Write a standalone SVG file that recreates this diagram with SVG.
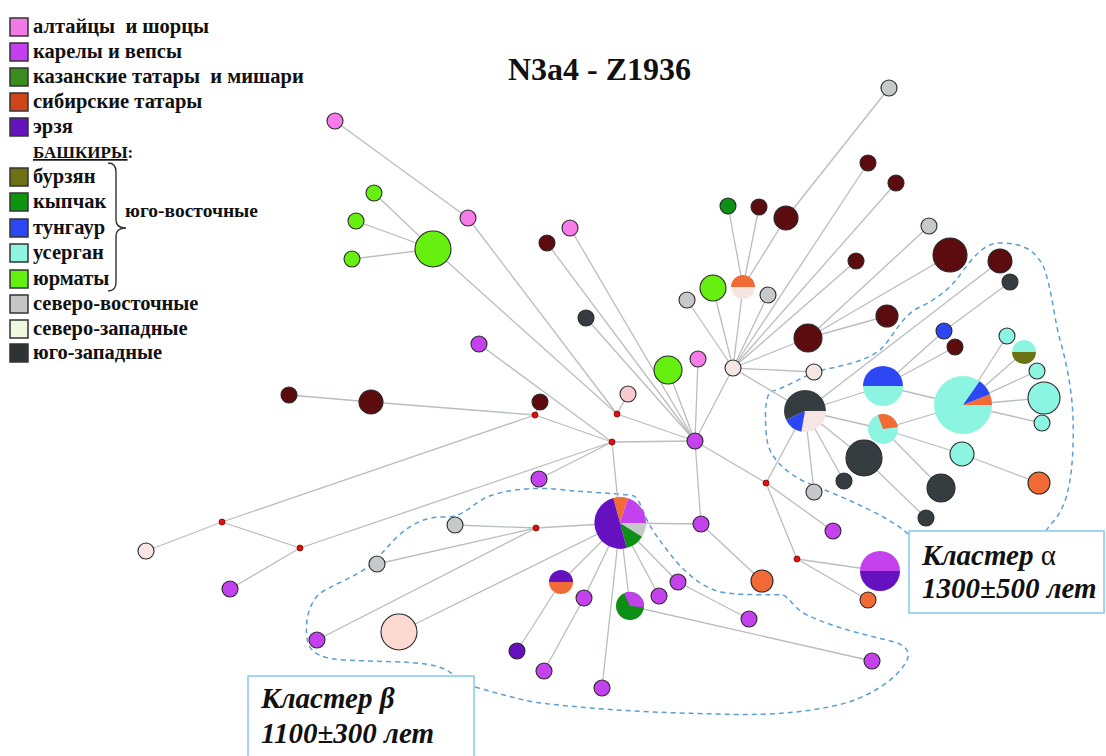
<svg xmlns="http://www.w3.org/2000/svg" width="1106" height="756" viewBox="0 0 1106 756">
<style>
.e{stroke:#b9bdbd;stroke-width:1.3;fill:none}
.n{stroke:#2a2a2a;stroke-width:1.1}
.mr{fill:#5c0b0e}.dg{fill:#363d40}.gy{fill:#c6c9c9}.pl{fill:#f6e6e3}.pp{fill:#f9cbd0}
.mg{fill:#c441ee}.pk{fill:#f77be9}.ym{fill:#66ef0f}.kp{fill:#0d8e14}.or{fill:#f26a36}
.us{fill:#8cf5e1}.bl{fill:#2c47f3}.ez{fill:#6511c0}.bz{fill:#6b7213}
.rd{fill:#e01010;stroke:#7a0000;stroke-width:0.8}
.lg{font-family:"Liberation Serif","Times New Roman",serif;font-weight:bold;font-size:20.5px;fill:#111;white-space:pre}
.sq{stroke:#333;stroke-width:1.5}
.dash{fill:none;stroke:#5a9fd4;stroke-width:1.5;stroke-dasharray:5,4}
.box{fill:#fff;stroke:#8ccbf0;stroke-width:1.6}
.cl{font-family:"Liberation Serif","Times New Roman",serif;font-weight:bold;font-style:italic;font-size:29px;fill:#111}
</style>

<g id="legend">
<rect class="sq" x="10" y="18" width="18" height="18" fill="#f27ae6"/>
<text class="lg" x="33" y="33" xml:space="preserve">алтайцы  и шорцы</text>
<rect class="sq" x="10" y="43" width="18" height="18" fill="#c43ff0"/>
<text class="lg" x="33" y="58">карелы и вепсы</text>
<rect class="sq" x="10" y="68" width="18" height="18" fill="#3a8c1c"/>
<text class="lg" x="33" y="83" xml:space="preserve">казанские татары  и мишари</text>
<rect class="sq" x="10" y="93" width="18" height="18" fill="#d0441a"/>
<text class="lg" x="33" y="108">сибирские татары</text>
<rect class="sq" x="10" y="118" width="18" height="18" fill="#6414be"/>
<text class="lg" x="33" y="133">эрзя</text>
<text class="lg" x="33" y="158" style="font-size:17px"><tspan text-decoration="underline">БАШКИРЫ</tspan>:</text>
<rect class="sq" x="10" y="168" width="18" height="18" fill="#6e7016"/>
<text class="lg" x="33" y="183">бурзян</text>
<rect class="sq" x="10" y="193" width="18" height="18" fill="#0c9610"/>
<text class="lg" x="33" y="208">кыпчак</text>
<rect class="sq" x="10" y="219" width="18" height="18" fill="#2c48f2"/>
<text class="lg" x="33" y="234">тунгаур</text>
<rect class="sq" x="10" y="244" width="18" height="18" fill="#8cf4e0"/>
<text class="lg" x="33" y="259">усерган</text>
<rect class="sq" x="10" y="270" width="18" height="18" fill="#66f010"/>
<text class="lg" x="33" y="285">юрматы</text>
<rect class="sq" x="10" y="295" width="18" height="18" fill="#c4c6c6"/>
<text class="lg" x="33" y="310">северо-восточные</text>
<rect class="sq" x="10" y="320" width="18" height="18" fill="#ecf8e0"/>
<text class="lg" x="33" y="335">северо-западные</text>
<rect class="sq" x="10" y="344" width="18" height="18" fill="#2e3436"/>
<text class="lg" x="33" y="359">юго-западные</text>
<path d="M108,163 Q116,163 116,172 L116,220 Q116,228 126,228 Q116,228 116,236 L116,282 Q116,291 108,291" fill="none" stroke="#333" stroke-width="1.4"/>
<text class="lg" x="125" y="217" style="font-size:19.5px">юго-восточные</text>
</g>

<g id="title"><text x="508" y="80" style="font-family:'Liberation Serif','Times New Roman',serif;font-weight:bold;font-size:32px;fill:#111">N3a4 - Z1936</text></g>

<g id="clusters">
<path class="dash" d="M1046,531 C1050,524 1058,518 1062,508 C1072,488 1074,450 1073,417 C1072,390 1066,360 1060,340 C1054,318 1052,290 1044,268 C1036,250 1022,243 1000,243 C985,243 975,255 962,272 C950,290 935,300 918,308 C900,318 895,335 880,350 C865,362 840,366 818,371 C800,378 785,388 770,392 C764,400 765,425 767,440 C770,458 785,472 805,482 C830,492 860,504 885,518 C895,524 902,528 909,535"/>
<path class="dash" d="M475,687 C500,694 520,700 540,703 C600,710 660,713 720,714 C770,716 820,712 855,700 C880,690 900,675 907,660 C912,648 900,643 887,640 C860,634 830,626 805,614 C792,606 790,598 783,595 C770,594 745,596 720,592 C700,586 690,575 680,566 C665,548 655,535 648,522 C642,510 640,500 634,496 C620,493 590,493 555,489 C530,487 505,490 487,497 C470,505 465,517 445,517 C425,516 410,525 397,537 C388,546 383,553 370,565 C355,578 330,585 318,595 C305,610 305,630 308,643 C312,655 325,659 345,660 C380,662 405,661 425,664 C440,666 448,670 455,676"/>
</g>

<g id="connectors">
<line class="e" x1="335" y1="121" x2="468" y2="218"/>
<line class="e" x1="468" y1="218" x2="617" y2="414"/>
<line class="e" x1="433" y1="249" x2="374" y2="193"/>
<line class="e" x1="433" y1="249" x2="356" y2="221"/>
<line class="e" x1="433" y1="249" x2="352" y2="259"/>
<line class="e" x1="433" y1="249" x2="617" y2="414"/>
<line class="e" x1="547" y1="243" x2="695" y2="441"/>
<line class="e" x1="570" y1="228" x2="695" y2="441"/>
<line class="e" x1="586" y1="318" x2="695" y2="441"/>
<line class="e" x1="668" y1="370" x2="695" y2="441"/>
<line class="e" x1="698" y1="359" x2="695" y2="441"/>
<line class="e" x1="733" y1="368" x2="695" y2="441"/>
<line class="e" x1="628" y1="394" x2="617" y2="414"/>
<line class="e" x1="617" y1="414" x2="695" y2="441"/>
<line class="e" x1="612" y1="442" x2="695" y2="441"/>
<line class="e" x1="612" y1="442" x2="535" y2="415"/>
<line class="e" x1="612" y1="442" x2="479" y2="344"/>
<line class="e" x1="612" y1="442" x2="539" y2="479"/>
<line class="e" x1="612" y1="442" x2="300" y2="548"/>
<line class="e" x1="612" y1="442" x2="620" y2="523"/>
<line class="e" x1="535" y1="415" x2="540" y2="402"/>
<line class="e" x1="535" y1="415" x2="371" y2="402"/>
<line class="e" x1="371" y1="402" x2="289" y2="395"/>
<line class="e" x1="535" y1="415" x2="222" y2="522"/>
<line class="e" x1="222" y1="522" x2="146" y2="551"/>
<line class="e" x1="222" y1="522" x2="300" y2="548"/>
<line class="e" x1="300" y1="548" x2="230" y2="589"/>
<line class="e" x1="536" y1="528" x2="455" y2="525"/>
<line class="e" x1="536" y1="528" x2="377" y2="564"/>
<line class="e" x1="536" y1="528" x2="317" y2="640"/>
<line class="e" x1="536" y1="528" x2="620" y2="523"/>
<line class="e" x1="620" y1="523" x2="399" y2="632"/>
<line class="e" x1="620" y1="523" x2="561" y2="582"/>
<line class="e" x1="561" y1="582" x2="517" y2="651"/>
<line class="e" x1="620" y1="523" x2="584" y2="598"/>
<line class="e" x1="584" y1="598" x2="544" y2="671"/>
<line class="e" x1="620" y1="523" x2="602" y2="688"/>
<line class="e" x1="620" y1="523" x2="630" y2="606"/>
<line class="e" x1="630" y1="606" x2="872" y2="661"/>
<line class="e" x1="620" y1="523" x2="659" y2="596"/>
<line class="e" x1="620" y1="523" x2="678" y2="582"/>
<line class="e" x1="678" y1="582" x2="749" y2="619"/>
<line class="e" x1="620" y1="523" x2="701" y2="524"/>
<line class="e" x1="701" y1="524" x2="695" y2="441"/>
<line class="e" x1="701" y1="524" x2="762" y2="581"/>
<line class="e" x1="695" y1="441" x2="766" y2="483"/>
<line class="e" x1="766" y1="483" x2="805" y2="411"/>
<line class="e" x1="766" y1="483" x2="833" y2="531"/>
<line class="e" x1="766" y1="483" x2="797" y2="559"/>
<line class="e" x1="797" y1="559" x2="880" y2="571"/>
<line class="e" x1="797" y1="559" x2="868" y2="600"/>
<line class="e" x1="733" y1="368" x2="687" y2="300"/>
<line class="e" x1="733" y1="368" x2="713" y2="288"/>
<line class="e" x1="733" y1="368" x2="743" y2="287"/>
<line class="e" x1="743" y1="287" x2="728" y2="206"/>
<line class="e" x1="743" y1="287" x2="759" y2="207"/>
<line class="e" x1="743" y1="287" x2="786" y2="218"/>
<line class="e" x1="786" y1="218" x2="889" y2="88"/>
<line class="e" x1="733" y1="368" x2="768" y2="295"/>
<line class="e" x1="733" y1="368" x2="868" y2="163"/>
<line class="e" x1="733" y1="368" x2="896" y2="183"/>
<line class="e" x1="733" y1="368" x2="856" y2="261"/>
<line class="e" x1="733" y1="368" x2="808" y2="338"/>
<line class="e" x1="808" y1="338" x2="929" y2="226"/>
<line class="e" x1="808" y1="338" x2="950" y2="255"/>
<line class="e" x1="808" y1="338" x2="887" y2="316"/>
<line class="e" x1="733" y1="368" x2="814" y2="372"/>
<line class="e" x1="733" y1="368" x2="805" y2="411"/>
<line class="e" x1="805" y1="411" x2="1000" y2="261"/>
<line class="e" x1="805" y1="411" x2="883" y2="386"/>
<line class="e" x1="805" y1="411" x2="883" y2="429"/>
<line class="e" x1="805" y1="411" x2="864" y2="458"/>
<line class="e" x1="805" y1="411" x2="844" y2="481"/>
<line class="e" x1="805" y1="411" x2="814" y2="492"/>
<line class="e" x1="883" y1="386" x2="944" y2="331"/>
<line class="e" x1="944" y1="331" x2="1010" y2="282"/>
<line class="e" x1="883" y1="386" x2="955" y2="347"/>
<line class="e" x1="883" y1="386" x2="963" y2="405"/>
<line class="e" x1="883" y1="429" x2="963" y2="405"/>
<line class="e" x1="963" y1="405" x2="1007" y2="336"/>
<line class="e" x1="963" y1="405" x2="1024" y2="352"/>
<line class="e" x1="963" y1="405" x2="1037" y2="371"/>
<line class="e" x1="963" y1="405" x2="1044" y2="398"/>
<line class="e" x1="963" y1="405" x2="1042" y2="423"/>
<line class="e" x1="883" y1="429" x2="962" y2="454"/>
<line class="e" x1="962" y1="454" x2="1039" y2="483"/>
<line class="e" x1="883" y1="429" x2="941" y2="488"/>
<line class="e" x1="864" y1="458" x2="926" y2="518"/>
</g>

<g id="n_pk1"><circle class="n pk" cx="335" cy="121" r="8"/></g>
<g id="n_pk2"><circle class="n pk" cx="468" cy="218" r="8"/></g>
<g id="n_ym1"><circle class="n ym" cx="433" cy="249" r="18"/></g>
<g id="n_ym2"><circle class="n ym" cx="374" cy="193" r="8"/></g>
<g id="n_ym3"><circle class="n ym" cx="356" cy="221" r="8"/></g>
<g id="n_ym4"><circle class="n ym" cx="352" cy="259" r="8"/></g>
<g id="n_mr1"><circle class="n mr" cx="547" cy="243" r="8"/></g>
<g id="n_pk3"><circle class="n pk" cx="570" cy="228" r="8"/></g>
<g id="n_dg1"><circle class="n dg" cx="586" cy="318" r="8"/></g>
<g id="n_mg1"><circle class="n mg" cx="479" cy="344" r="8"/></g>
<g id="n_ym5"><circle class="n ym" cx="668" cy="370" r="14"/></g>
<g id="n_pk4"><circle class="n pk" cx="698" cy="359" r="8"/></g>
<g id="n_pp1"><circle class="n pp" cx="628" cy="394" r="8"/></g>
<g id="n_mr2"><circle class="n mr" cx="540" cy="402" r="8"/></g>
<g id="n_mr3"><circle class="n mr" cx="371" cy="402" r="12"/></g>
<g id="n_mr4"><circle class="n mr" cx="289" cy="395" r="8"/></g>
<g id="n_mg2"><circle class="n mg" cx="539" cy="479" r="8"/></g>
<g id="n_pp2"><circle class="n" cx="146" cy="551" r="8" fill="#fbe5e5"/></g>
<g id="n_mg3"><circle class="n mg" cx="230" cy="589" r="8"/></g>
<g id="r_1"><circle class="rd" cx="612" cy="442" r="3"/></g>
<g id="r_2"><circle class="rd" cx="617" cy="414" r="3"/></g>
<g id="r_3"><circle class="rd" cx="535" cy="415" r="3"/></g>
<g id="r_4"><circle class="rd" cx="222" cy="522" r="3"/></g>
<g id="r_5"><circle class="rd" cx="300" cy="548" r="3"/></g>
<g id="r_6"><circle class="rd" cx="536" cy="528" r="3"/></g>
<g id="r_7"><circle class="rd" cx="766" cy="483" r="3"/></g>
<g id="r_8"><circle class="rd" cx="797" cy="559" r="3"/></g>
<g id="n_hubm"><circle class="n mg" cx="695" cy="441" r="8"/></g>
<g id="n_hubp"><circle class="n pl" cx="733" cy="368" r="8"/></g>
<g id="n_gy1"><circle class="n gy" cx="687" cy="300" r="8"/></g>
<g id="n_ym6"><circle class="n ym" cx="713" cy="288" r="13"/></g>
<g id="n_half1"><path class="or" d="M731,287 A12,12 0 0 1 755,287 Z"/><path class="pl" d="M755,287 A12,12 0 0 1 731,287 Z"/></g>
<g id="n_gy2"><circle class="n gy" cx="768" cy="295" r="8"/></g>
<g id="n_kp1"><circle class="n kp" cx="728" cy="206" r="8"/></g>
<g id="n_mr5"><circle class="n mr" cx="759" cy="207" r="8"/></g>
<g id="n_mr6"><circle class="n mr" cx="786" cy="218" r="12"/></g>
<g id="n_gy3"><circle class="n gy" cx="889" cy="88" r="8"/></g>
<g id="n_mr7"><circle class="n mr" cx="868" cy="163" r="8"/></g>
<g id="n_mr8"><circle class="n mr" cx="896" cy="183" r="8"/></g>
<g id="n_mr9"><circle class="n mr" cx="856" cy="261" r="8"/></g>
<g id="n_gy4"><circle class="n gy" cx="929" cy="226" r="8"/></g>
<g id="n_mr10"><circle class="n mr" cx="950" cy="255" r="17"/></g>
<g id="n_mr11"><circle class="n mr" cx="1000" cy="261" r="12"/></g>
<g id="n_dg2"><circle class="n dg" cx="1010" cy="282" r="8"/></g>
<g id="n_mr12"><circle class="n mr" cx="808" cy="338" r="14"/></g>
<g id="n_mr13"><circle class="n mr" cx="887" cy="316" r="11"/></g>
<g id="n_pl2"><circle class="n pl" cx="814" cy="372" r="8"/></g>
<g id="n_pieA"><path class="pl" d="M805,411 L826,411 A21,21 0 0 1 801.35,431.68 Z"/><path class="bl" d="M805,411 L801.35,431.68 A21,21 0 0 1 785.97,419.87 Z"/><path class="dg" d="M805,411 L785.97,419.87 A21,21 0 1 1 826,411 Z"/></g>
<g id="n_halfBU"><path class="bl" d="M863,386 A20,20 0 0 1 903,386 Z"/><path class="us" d="M903,386 A20,20 0 0 1 863,386 Z"/></g>
<g id="n_pieUO"><circle class="us" cx="883" cy="429" r="15"/><path class="or" d="M883,429 L877.87,414.9 A15,15 0 0 1 897.85,426.91 Z"/></g>
<g id="n_pieU"><circle class="us" cx="963" cy="405" r="29"/><path class="bl" d="M963,405 L979.63,381.24 A29,29 0 0 1 989.89,394.14 Z"/><path class="or" d="M963,405 L989.89,394.14 A29,29 0 0 1 992,405 Z"/></g>
<g id="n_bl1"><circle class="n bl" cx="944" cy="331" r="8"/></g>
<g id="n_mr14"><circle class="n mr" cx="955" cy="347" r="8"/></g>
<g id="n_us1"><circle class="n us" cx="1007" cy="336" r="8"/></g>
<g id="n_halfUB"><path class="us" d="M1012,352 A12,12 0 0 1 1036,352 Z"/><path class="bz" d="M1036,352 A12,12 0 0 1 1012,352 Z"/></g>
<g id="n_us2"><circle class="n us" cx="1037" cy="371" r="8"/></g>
<g id="n_us3"><circle class="n us" cx="1044" cy="398" r="16"/></g>
<g id="n_us4"><circle class="n us" cx="1042" cy="423" r="8"/></g>
<g id="n_us5"><circle class="n us" cx="962" cy="454" r="12"/></g>
<g id="n_or1"><circle class="n or" cx="1039" cy="483" r="11"/></g>
<g id="n_dg3"><circle class="n dg" cx="864" cy="458" r="18"/></g>
<g id="n_dg4"><circle class="n dg" cx="941" cy="488" r="14"/></g>
<g id="n_dg5"><circle class="n dg" cx="926" cy="518" r="8"/></g>
<g id="n_dg6"><circle class="n dg" cx="844" cy="481" r="8"/></g>
<g id="n_gy5"><circle class="n gy" cx="814" cy="492" r="8"/></g>
<g id="n_mg4"><circle class="n mg" cx="701" cy="524" r="8"/></g>
<g id="n_or2"><circle class="n or" cx="762" cy="581" r="11"/></g>
<g id="n_mg5"><circle class="n mg" cx="833" cy="531" r="8"/></g>
<g id="n_or3"><circle class="n or" cx="868" cy="600" r="8"/></g>
<g id="n_halfME"><path class="mg" d="M860,571 A20,20 0 0 1 900,571 Z"/><path class="ez" d="M900,571 A20,20 0 0 1 860,571 Z"/></g>
<g id="n_pieB"><path class="or" d="M620,523 L613.27,497.89 A26,26 0 0 1 628.03,498.27 Z"/><path class="mg" d="M620,523 L628.03,498.27 A26,26 0 0 1 646,523 Z"/><path class="gy" d="M620,523 L646,523 A26,26 0 0 1 642.05,536.78 Z"/><path class="kp" d="M620,523 L642.05,536.78 A26,26 0 0 1 626.73,548.11 Z"/><path class="ez" d="M620,523 L626.73,548.11 A26,26 0 0 1 613.27,497.89 Z"/></g>
<g id="n_gy6"><circle class="n gy" cx="455" cy="525" r="8"/></g>
<g id="n_gy7"><circle class="n gy" cx="377" cy="564" r="8"/></g>
<g id="n_mg6"><circle class="n mg" cx="317" cy="640" r="8"/></g>
<g id="n_pp3"><circle class="n" cx="399" cy="632" r="18" fill="#fcd9d1"/></g>
<g id="n_halfEO"><path class="ez" d="M549,582 A12,12 0 0 1 573,582 Z"/><path class="or" d="M573,582 A12,12 0 0 1 549,582 Z"/></g>
<g id="n_ez1"><circle class="n ez" cx="517" cy="651" r="8"/></g>
<g id="n_mg7"><circle class="n mg" cx="584" cy="598" r="8"/></g>
<g id="n_mg8"><circle class="n mg" cx="544" cy="671" r="8"/></g>
<g id="n_mg9"><circle class="n mg" cx="602" cy="688" r="8"/></g>
<g id="n_pieKM"><circle class="kp" cx="630" cy="606" r="14"/><path class="mg" d="M630,606 L624.08,593.31 A14,14 0 0 1 643.95,607.22 Z"/></g>
<g id="n_mg10"><circle class="n mg" cx="659" cy="596" r="8"/></g>
<g id="n_mg11"><circle class="n mg" cx="678" cy="582" r="8"/></g>
<g id="n_mg12"><circle class="n mg" cx="749" cy="619" r="8"/></g>
<g id="n_mg13"><circle class="n mg" cx="872" cy="661" r="8"/></g>

<g id="label_alpha">
<rect class="box" x="909" y="531" width="195" height="82"/>
<text class="cl" x="922" y="565">Кластер <tspan style="font-style:normal;font-weight:normal">α</tspan></text>
<text class="cl" x="922" y="598">1300±500 лет</text>
</g>
<g id="label_beta">
<rect class="box" x="248" y="676" width="226" height="90"/>
<text class="cl" x="261" y="708">Кластер β</text>
<text class="cl" x="261" y="743">1100±300 лет</text>
</g>
</svg>
